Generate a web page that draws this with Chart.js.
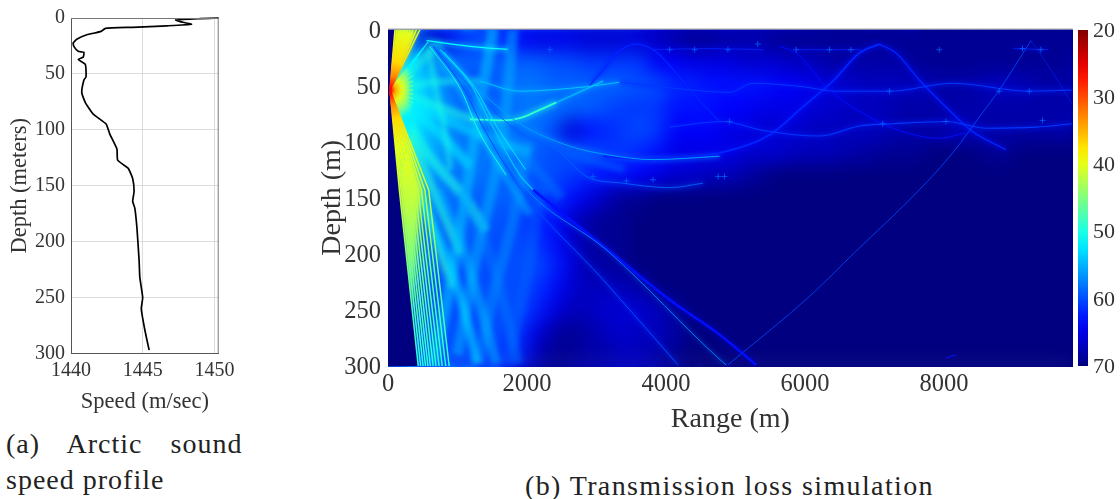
<!DOCTYPE html>
<html><head><meta charset="utf-8">
<script src="https://cdn.jsdelivr.net/npm/chart.js@4"></script>
<style>
html,body{margin:0;padding:0;background:#fff;width:1120px;height:499px;overflow:hidden}
canvas{position:absolute}
.cap{position:absolute;font-family:"Liberation Serif";color:#222;font-size:28px;letter-spacing:1px;white-space:pre;line-height:32px}
</style></head><body>
<canvas id="c1" width="240" height="420" style="left:0;top:0;width:240px;height:420px"></canvas>
<canvas id="c2" width="790" height="440" style="left:300px;top:0;width:790px;height:440px"></canvas>
<canvas id="c3" width="50" height="400" style="left:1070px;top:0;width:50px;height:400px"></canvas>
<div class="cap" style="left:6px;top:428px;word-spacing:20px">(a) Arctic sound</div>
<div class="cap" style="left:6px;top:464px">speed profile</div>
<div class="cap" style="left:525px;top:470px;letter-spacing:1.38px">(b) Transmission loss simulation</div>
<script>
// ---------- Sound speed profile ----------
const profileSpeed=[1450.3,1449,1447.3,1447.6,1448.4,1446.7,1444.3,1442.4,1442.1,1441.1,1440.4,1440.15,1440.2,1440.5,1440.9,1440.85,1440.5,1441,1441.05,1440.9,1440.75,1441,1441.55,1442.45,1442.7,1443.2,1443.25,1443.7,1444,1444.3,1444.4,1444.3,1444.45,1444.6,1444.75,1444.8,1445,1444.9,1445.15,1445.45];
const profileDepth=[0,0.6,1.8,3.2,5.6,7,8.3,9.2,12,15,19,22.4,25.4,29.8,30.7,35,37,41.6,52.5,55.5,66.7,75.6,86,94.8,103.6,117,127,131.7,134.6,143.5,155,164,170,188,217,232,250,260,279,297];
const speedTicks=[1440,1445,1450];
const depthTicksA=[0,50,100,150,200,250,300];
const rangeTicks=[0,2000,4000,6000,8000];
const depthTicksB=[0,50,100,150,200,250,300];
const colorbarTicks=[20,30,40,50,60,70];

// ---------- Transmission loss haze, dB, cells 250 m x 20 m ----------
const cellRanges=[125,375,625,875,1125,1375,1625,1875,2125,2375,2625,2875,3125,3375,3625,3875,4125,4375,4625,4875,5125,5375,5625,5875,6125,6375,6625,6875,7125,7375,7625,7875,8125,8375,8625,8875,9125,9375,9625,9875];
const cellDepths=[10,30,50,70,90,110,130,150,170,190,210,230,250,270,290];
const tl010=[58,58,67,65,61,60,61,64,65,65,65,66,66,66,66,67,68,69,69,68,68,68,69,69,69,69,69,69,69,69,69,69,69,69,69,69,69,69,69,69];
const tl030=[52,54,56,58,59,59,59,59,59,60,60,61,61,61,61,64,64,65,65,65,66,66,66,67,67,68,68,68,68,68,69,69,69,69,69,69,69,69,69,69];
const tl050=[47,52,55,58,60,60,59,58,58,59,59,59,59,59,60,60,62,62,63,63,63,63,64,64,65,66,66,67,67,67,67,68,68,68,67,67,67,68,68,68];
const tl070=[49,52,54,57,59,59,59,58,58,58,59,59,60,61,61,61,63,63,63,64,64,65,65,65,66,66,67,67,67,68,68,68,68,68,68,68,68,68,68,68];
const tl090=[52,52,55,57,58,58,58,58,58,60,66,63,62,61,60,61,64,64,64,65,65,66,66,66,67,67,67,67,67,68,68,68,67,67,68,68,68,68,68,67];
const tl110=[54,54,55,57,58,58,58,58,59,60,60,60,61,61,62,63,65,65,65,65,66,66,66,67,67,67,68,68,69,69,69,70,70,70,69,69,70,70,70,70];
const tl130=[56,56,56,58,58,58,59,59,60,60,61,62,63,63,64,65,66,66,67,67,68,69,70,70,70,70,70,70,70,70,70,70,70,70,70,70,70,70,70,70];
const tl150=[62,56,57,58,59,59,59,59,60,61,63,65,67,69,69,70,70,70,70,70,70,70,70,70,70,70,70,70,70,70,70,70,70,70,70,70,70,70,70,70];
const tl170=[70,56,58,59,59,59,60,60,62,63,66,68,69,69,70,70,70,70,70,70,70,70,70,70,70,70,70,70,70,70,70,70,70,70,70,70,70,70,70,70];
const tl190=[70,58,58,59,59,60,60,60,61,63,66,68,69,69,70,70,70,70,70,70,70,70,70,70,70,70,70,70,70,70,70,70,70,70,70,70,70,70,70,70];
const tl210=[70,58,58,59,60,60,60,60,60,62,65,68,68,69,70,70,70,70,70,70,70,70,70,70,70,70,70,70,70,70,70,70,70,70,70,70,70,70,70,70];
const tl230=[70,60,59,60,60,60,60,60,61,63,66,67,67,67,68,70,70,70,70,70,70,70,70,70,70,70,70,70,70,70,70,70,70,70,70,70,70,70,70,70];
const tl250=[70,60,59,60,60,60,60,60,62,65,67,67,66,66,66,67,69,70,70,70,70,70,70,70,70,70,70,70,70,70,70,70,70,70,70,70,70,70,70,70];
const tl270=[70,60,59,60,60,60,60,61,65,68,69,68,67,66,67,67,68,70,70,70,70,70,70,70,70,70,70,70,70,70,70,70,70,70,70,70,70,70,70,70];
const tl290=[70,60,59,60,60,61,61,62,67,69,69,68,68,67,67,68,69,70,70,70,70,70,70,70,70,70,70,70,70,70,70,70,70,70,70,70,70,70,70,70];
const tlRows=[tl010,tl030,tl050,tl070,tl090,tl110,tl130,tl150,tl170,tl190,tl210,tl230,tl250,tl270,tl290];

// ---------- Shadow zone next to the source ----------
const shadowZone=[[0,0],[100,0],[40,40],[28,54],[163,143],[435,300],[0,300]];

// ---------- Direct fan, [range m, depth m], from the source ----------
const source=[28,54];
const fanBodyUp=[[28,54],[100,0],[430,0],[300,20],[120,40]];
const fanBodyDown=[[28,54],[163,143],[330,255],[480,143],[280,100],[120,68]];
const fanBodyMid=[[28,54],[520,14],[300,36],[300,66],[340,80],[270,98],[200,125],[120,120]];
const fanDown=[[[163,143],[435,300]],[[190,143],[470,300]],[[220,143],[505,300]],[[250,143],[540,300]],[[280,143],[575,300]],[[315,143],[610,300]],[[350,143],[650,300]],[[390,143],[690,300]],[[430,143],[735,300]],[[480,143],[780,300]],[[530,143],[830,300]],[[585,143],[880,300]]];
const fanUp=[[100,0],[130,0],[160,0],[190,0],[220,0],[250,0],[285,0],[320,0],[360,0],[410,0],[460,0]];
const fanMid=[[580,11],[520,16],[460,21],[420,26],[390,31],[364,36],[364,41],[364,46],[364,50],[364,54],[364,58],[364,62],[364,66],[370,70],[380,74],[411,80],[385,85],[364,90],[340,94],[316,98],[290,104],[268,110],[245,118],[220,125],[200,132]];

// ---------- Beams and ray paths, [range m, depth m] ----------
const beamA=[[28,54],[700,15],[760,18]];
const beamB=[[28,54],[640,47],[1322,46]];
const beamC=[[28,54],[600,66],[1200,80]];
const beamD=[[28,54],[1100,88],[2040,110]];
const beamE=[[28,54],[700,90],[1178,122]];
const beamF=[[28,54],[560,110],[1130,152],[1400,180]];
const beamG=[[28,54],[420,110],[900,180],[1040,200]];
const beamH=[[28,54],[340,110],[700,190],[920,230]];
const beamI=[[650,15],[1200,70],[1500,110],[2040,165]];
const beamJ=[[700,15],[1400,70],[2000,115],[2500,150]];
const beamK=[[1900,85],[2600,110],[3400,125]];
const burst=[[580,15],[680,50],[820,90],[900,125]];
const downLeft1=[[1514,0],[1300,75],[1106,152],[843,244],[651,297]];
const downLeft2=[[1800,0],[1640,100],[1280,200],[1000,290]];
const downLeft3=[[2030,100],[1800,170],[1500,240],[1310,298]];
const downLeft4=[[2200,140],[2000,220],[1720,298]];
const downRight1=[[700,143],[1034,188],[1300,240],[1560,298]];
const downRight2=[[420,143],[914,214],[1180,270],[1280,298]];
const downRight3=[[1050,143],[1400,190],[1650,240],[1880,298]];
const rayCaustic=[[1178,80],[1657,81],[1897,79],[2136,73],[2423,65]];
const rayCausticEnd=[[2423,65],[2711,57],[3094,46]];
const rayArch=[[2900,50],[3094,36],[3286,21],[3573,13],[3860,20],[4148,39],[4435,60],[4770,82]];
const rayRise=[[3100,113],[3800,116],[4770,110],[5488,94],[5968,69],[6399,46],[6782,21],[7069,13]];
const rayFall=[[7069,13],[7309,21],[7644,45],[8027,69],[8410,91],[8889,107]];
const rayArc1=[[747,18],[1418,60],[1897,84],[2615,104],[3190,112],[3812,116],[4770,113]];
const rayArc2=[[651,15],[1322,60],[1897,92],[2423,107],[2854,131],[3381,137],[4052,141],[4531,137]];
const rayMidNear=[[1322,46],[1897,55],[2854,51],[3333,47]];
const rayMidFar=[[3333,47],[4052,52],[4913,56],[5249,48],[5968,51],[6446,55],[7213,55],[8123,48],[9225,55],[9838,54]];
const rayTop=[[555,10],[1178,15],[1753,18]];
const rayDip=[[5632,15],[5872,21],[6350,54],[7117,84],[7644,95],[7931,97],[8314,92]];
const rayLow=[[4052,87],[4818,82],[5393,90],[6207,95],[6782,86],[7260,84],[8027,82],[8602,88],[9320,87],[9838,84]];
const rayThinUp=[[4890,299],[6063,238],[6710,199],[7644,143],[8123,110],[8602,70],[8793,54],[9249,10]];
const rayThinDown=[[9249,10],[9464,29],[9838,66]];
const rayDown1Near=[[750,18],[1200,50],[1450,80],[1900,130],[2088,143]];
const rayDown1=[[2088,143],[3094,193],[4052,241],[4770,272],[5297,299]];
const rayDown2=[[700,16],[1150,52],[1400,82],[1850,132],[3190,199],[4770,294],[4866,299]];
const rayDown3=[[650,15],[1100,54],[1350,85],[1920,143],[3094,223],[4172,299]];
const rayPar1=[[600,15],[1050,54],[1300,90],[1700,130]];
const rayPar2=[[800,20],[1250,52],[1550,85],[1980,125]];
const rayShelf1=[[3800,18],[4600,17],[5400,18]];
const rayShelf2=[[5900,18],[6800,18]];
const rayShelf3=[[9000,17],[9500,18]];
const rayBottom=[[8027,293],[8170,290]];
const cuspRanges=[1753,2330,4052,4411,4890,5320,5872,6350,6660,7931,9128,9391,4914,7117,8027,9416,7213,9225,8793,2950,3430,3812,4750,4840];
const cuspDepths=[18,18,18,18,18,13,18,18,18,18,17,18,82,84,82,81,55,55,55,131,135,134,131,131];

// ---------- Styles ----------
const beamStyles=[
 [beamA,50,10,.5],[beamB,50,7,.5],[beamC,50,9,.55],[beamD,52,10,.5],[beamE,52,10,.55],[beamF,50,10,.6],[beamG,49,8,.6],[beamH,48,6,.6],
 [beamI,54,8,.4],[beamJ,57,10,.35],[beamK,58,8,.4],
 [burst,50,6,.5],[downLeft1,54,11,.55],[downLeft2,55,11,.5],[downLeft3,56,11,.42],[downLeft4,58,12,.3],
 [downRight1,54,10,.45],[downRight2,52,9,.5],[downRight3,57,10,.35]];
const rayStyles=[
 [rayCaustic,49,1.8,7],[rayCausticEnd,55,1.6,6],[rayArch,62,1.2,4],[rayRise,62,1.8,6],[rayFall,62,1.4,5],[rayArc1,56,1,5],[rayArc2,59,.9,4],
 [rayMidNear,54,1,4],[rayMidFar,61,1,4],[rayTop,51,1.2,5],
 [rayDip,63,.9,2],[rayLow,61,1.1,4],[rayThinUp,60,.8,0],[rayThinDown,62,.6,0],[rayDown1Near,54,1.2,4],[rayDown1,63,2.4,4],[rayDown2,57,.9,2],[rayDown3,60,1,3],
 [rayPar1,50,.9,2],[rayPar2,52,.9,2],[rayShelf1,62,.8,2],[rayShelf2,62,.8,2],[rayShelf3,62,.8,2],[rayBottom,63,1,0]];

function jet(tl){
  const f=Math.max(0,Math.min(1,(70-tl)/50));
  const c=(v)=>Math.round(255*Math.max(0,Math.min(1,v)));
  return `rgb(${c(Math.min(4*f-1.5,-4*f+4.5))},${c(Math.min(4*f-.5,-4*f+3.5))},${c(Math.min(4*f+.5,-4*f+2.5))})`;
}
function jetA(tl,a){return jet(tl).replace('rgb','rgba').replace(')',','+a+')');}
const pts=a=>a.map(p=>({x:p[0],y:p[1]}));
const base={pointRadius:0,pointHoverRadius:0,fill:false};
const ink='#333';
const FONT='"Liberation Serif"';
const plain=v=>String(v);
Chart.defaults.animation=false;
Chart.defaults.font.family=FONT;
Chart.defaults.color=ink;

// ---------- Chart (a) ----------
new Chart(document.getElementById('c1'),{
 type:'line',
 data:{datasets:[{data:profileSpeed.map((s,i)=>({x:s,y:profileDepth[i]})),borderColor:'#000',borderWidth:1.7,pointRadius:0,tension:.15,clip:false}]},
 options:{responsive:false,events:[],
  layout:{padding:{top:14.5,right:20.7,left:3,bottom:0}},
  plugins:{legend:{display:false},tooltip:{enabled:false}},
  scales:{
   x:{type:'linear',min:1440,max:1450.3,afterBuildTicks:s=>{s.ticks=speedTicks.map(v=>({value:v}))},
    grid:{color:'#dcdcdc',tickLength:0,drawTicks:false},border:{color:'#555',width:1},
    ticks:{font:{size:20},color:ink,padding:5,maxRotation:0,callback:plain},
    title:{display:true,text:'Speed (m/sec)',font:{size:22.5},color:ink,padding:{top:0}},
    afterFit:s=>{s.height=66.5}},
   y:{type:'linear',reverse:true,min:0,max:300,afterBuildTicks:s=>{s.ticks=depthTicksA.map(v=>({value:v}))},
    grid:{color:'#dcdcdc',tickLength:0,drawTicks:false},border:{color:'#555',width:1},
    ticks:{font:{size:20},color:ink,padding:6,callback:plain},
    title:{display:true,text:'Depth (meters)',font:{size:22.5},color:ink,padding:{bottom:0}},
    afterFit:s=>{s.width=68}}
  }},
 plugins:[{id:'frameA',afterDraw(ch){const a=ch.chartArea,c=ch.ctx;c.save();c.strokeStyle='#777';c.lineWidth=1;c.beginPath();
   c.moveTo(a.left,a.top+.5);c.lineTo(a.right-.5,a.top+.5);c.lineTo(a.right-.5,a.bottom);c.stroke();c.restore();}}]
});

// ---------- Chart (b) ----------
const heatSets=tlRows.map((row,ri)=>({
  type:'bar',grouped:false,barPercentage:1,categoryPercentage:1,borderWidth:0,borderSkipped:false,
  data:row.map((v,ci)=>({x:cellRanges[ci],y:[cellDepths[ri]-10,cellDepths[ri]+10]})),
  backgroundColor:row.map(jet)}));
const maskSet={type:'line',...base,data:pts(shadowZone),fill:'shape',backgroundColor:jet(70),borderWidth:0,tension:0};
const beamSets=beamStyles.map(([d,tl,w,a])=>({type:'line',...base,data:pts(d),borderColor:jetA(tl,a),borderWidth:w,tension:.25}));
function fanGrad(ch,radius,stops){
  const xs=ch.scales.x,ys=ch.scales.y;
  if(!xs||!ys)return jet(42);
  const cx=xs.getPixelForValue(source[0]),cy=ys.getPixelForValue(source[1]);
  if(!isFinite(cx)||!isFinite(cy))return jet(42);
  const g=ch.ctx.createRadialGradient(cx,cy,0,cx,cy,radius);
  stops.forEach(([s,t])=>g.addColorStop(s,jet(t)));
  return g;
}
const longStops=[[0,25],[.02,28],[.05,33],[.1,37],[.2,40],[.4,42],[.65,46],[1,50]];
const shortStops=[[0,25],[.08,29],[.2,35],[.4,40],[.65,44],[.85,48],[1,52]];
const bodySets=[[fanBodyMid,30,shortStops],[fanBodyUp,290,longStops],[fanBodyDown,290,longStops]].map(([d,r,s])=>({type:'line',...base,data:pts(d),fill:'shape',backgroundColor:c=>fanGrad(c.chart,r,s),borderWidth:0,tension:0}));
const fanLong=[...fanUp.map(e=>[source,e]),...fanDown.map(e=>[source,...e])]
  .map(d=>({type:'line',...base,data:pts(d),borderColor:c=>fanGrad(c.chart,290,longStops),borderWidth:1.5,tension:0}));
const fanShort=fanMid.map(e=>({type:'line',...base,data:pts([source,e]),borderColor:c=>fanGrad(c.chart,30,shortStops),borderWidth:1.1,tension:0}));
const glowSets=rayStyles.filter(r=>r[3]>0).map(([d,tl,w,g])=>({type:'line',...base,data:pts(d),borderColor:jetA(tl+1,.45),borderWidth:g,cubicInterpolationMode:'monotone'}));
const coreSets=rayStyles.map(([d,tl,w])=>({type:'line',...base,data:pts(d),borderColor:jet(tl),borderWidth:w,cubicInterpolationMode:'monotone'}));
const cuspSet={type:'scatter',data:cuspRanges.map((r,i)=>({x:r,y:cuspDepths[i]})),pointStyle:'cross',pointRadius:3,pointBorderColor:jet(59),pointBorderWidth:.8};
const sets=[...heatSets,...beamSets,...bodySets,...glowSets,maskSet,...coreSets,...fanShort,...fanLong,cuspSet];
sets.forEach((s,i)=>{s.order=100000-i});
const lastHeat=heatSets.length-1, lastSoft=lastHeat+beamSets.length+bodySets.length+glowSets.length;
function blurArea(ch,px){
  const a=ch.chartArea,w=Math.round(a.right-a.left),h=Math.round(a.bottom-a.top),l=Math.round(a.left),t=Math.round(a.top),p=30;
  const tmp=document.createElement('canvas');tmp.width=w+2*p;tmp.height=h+2*p;
  const tc=tmp.getContext('2d');
  tc.drawImage(ch.canvas,l,t,w,h,0,0,w+2*p,h+2*p);
  tc.drawImage(ch.canvas,l,t,w,h,p,p,w,h);
  const c=ch.ctx;c.save();c.beginPath();c.rect(l,t,w,h);c.clip();c.filter=`blur(${px}px)`;
  c.drawImage(tmp,l-p,t-p);c.restore();
}
const blurPlugin={id:'blurHaze',afterDatasetDraw(ch,args){
  if(args.index===lastHeat)blurArea(ch,9);
  if(args.index===lastSoft)blurArea(ch,2.5);
}};
new Chart(document.getElementById('c2'),{
 type:'bar',
 data:{datasets:sets},
 options:{responsive:false,events:[],
  layout:{padding:{top:29.5,right:17.3,left:12,bottom:0}},
  plugins:{legend:{display:false},tooltip:{enabled:false}},
  scales:{
   x:{type:'linear',offset:false,min:0,max:9850,afterBuildTicks:s=>{s.ticks=rangeTicks.map(v=>({value:v}))},
    grid:{display:false,drawTicks:false,offset:false},border:{color:'#bbb',width:1},
    ticks:{font:{size:24.5},color:ink,padding:4,maxRotation:0,callback:plain},
    title:{display:true,text:'Range (m)',font:{size:28},color:ink,padding:{top:0}},
    afterFit:s=>{s.height=74}},
   y:{type:'linear',reverse:true,min:0,max:300,afterBuildTicks:s=>{s.ticks=depthTicksB.map(v=>({value:v}))},
    grid:{display:false,drawTicks:false},border:{color:'#bbb',width:1},
    ticks:{font:{size:24.5},color:ink,padding:7,labelOffset:2,callback:plain},
    title:{display:true,text:'Depth (m)',font:{size:28},color:ink,padding:{bottom:0}},
    afterFit:s=>{s.width=76}}
  }},
 plugins:[blurPlugin,{id:'frameB',beforeDraw(ch){const a=ch.chartArea,c=ch.ctx;c.save();c.fillStyle=jet(70);c.fillRect(a.left,a.top,a.right-a.left,a.bottom-a.top);c.restore();},
  afterDraw(ch){const a=ch.chartArea,c=ch.ctx;c.save();c.strokeStyle='#aaa';c.lineWidth=1;c.beginPath();c.moveTo(a.left,a.top-.5);c.lineTo(a.right,a.top-.5);c.stroke();c.restore();}}]
});

// ---------- Colour bar ----------
new Chart(document.getElementById('c3'),{
 type:'bar',
 data:{labels:['TL'],datasets:[{data:[[20,70]],barPercentage:1,categoryPercentage:1,borderWidth:0,borderSkipped:false,
  backgroundColor:c=>{const ch=c.chart,a=ch.chartArea;if(!a||!isFinite(a.top)||!isFinite(a.bottom))return jet(70);
    const g=ch.ctx.createLinearGradient(0,a.top,0,a.bottom);
    for(let i=0;i<=20;i++)g.addColorStop(i/20,jet(20+i*2.5));return g;}}]},
 options:{responsive:false,events:[],
  layout:{padding:{top:30,right:0,left:8,bottom:34}},
  plugins:{legend:{display:false},tooltip:{enabled:false}},
  scales:{
   x:{display:false},
   y:{type:'linear',position:'right',reverse:true,min:20,max:70,afterBuildTicks:s=>{s.ticks=colorbarTicks.map(v=>({value:v}))},
    grid:{display:false,drawTicks:false},border:{display:false},
    ticks:{font:{size:22},color:ink,padding:5,labelOffset:1,callback:plain},
    afterFit:s=>{s.width=32}}
  }}
});
</script>
</body></html>
